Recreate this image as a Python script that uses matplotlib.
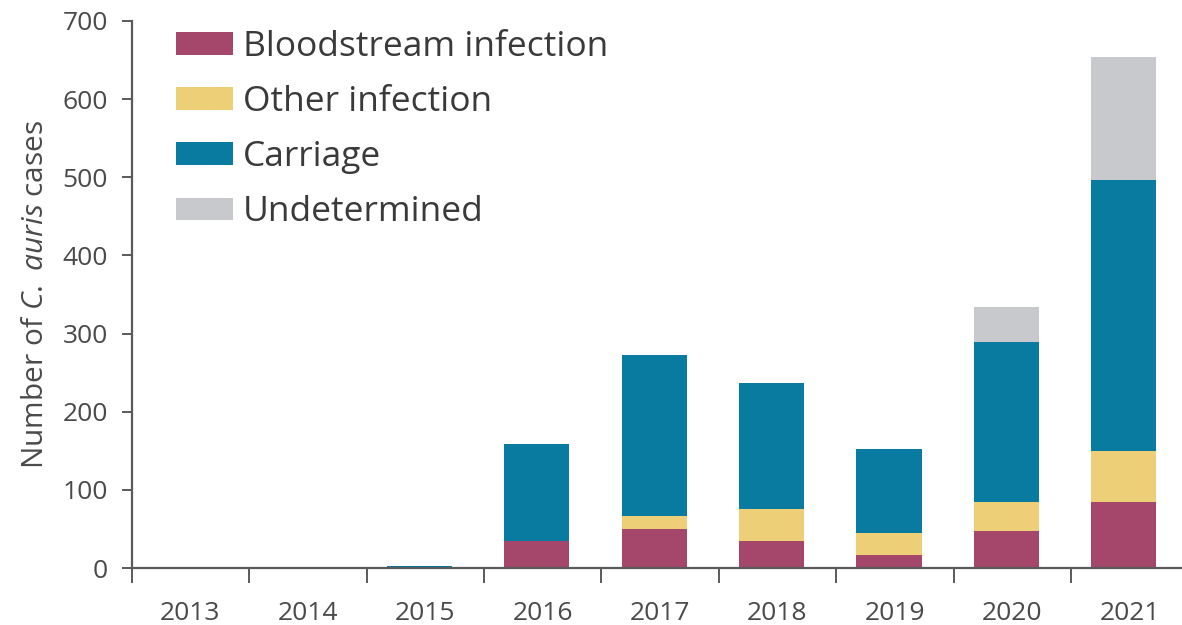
import matplotlib
matplotlib.use("Agg")
import matplotlib.pyplot as plt
import numpy as np

years = ["2013", "2014", "2015", "2016", "2017", "2018", "2019", "2020", "2021"]
bloodstream = [0, 0, 0, 35, 50, 35, 17, 47, 85]
other_infection = [0, 0, 0, 0, 17, 40, 28, 37, 65]
carriage = [0, 0, 2, 124, 206, 162, 107, 205, 346]
undetermined = [0, 0, 0, 0, 0, 0, 0, 45, 158]

series_names = ["Bloodstream infection", "Other infection", "Carriage", "Undetermined"]
colors = ["#A5476A", "#ECCF77", "#097BA1", "#C8C9CC"]

plt.rcParams['font.family'] = ['Open Sans', 'DejaVu Sans']
plt.rcParams['mathtext.fontset'] = 'custom'
plt.rcParams['mathtext.it'] = 'Open Sans:italic'
plt.rcParams['mathtext.rm'] = 'Open Sans'

W, H = 1182, 625
fig = plt.figure(figsize=(W / 100, H / 100), dpi=100)
left_px, bottom_px, top_px, right_px = 131.7, 568, 21, 1182
ax = fig.add_axes([left_px / W, 1 - bottom_px / H, (right_px - left_px) / W, (bottom_px - top_px) / H])

x = np.arange(len(years))
bar_x = x - 0.05
width = 0.555
bottom = np.zeros(len(years))
for name, vals, c in zip(series_names, [bloodstream, other_infection, carriage, undetermined], colors):
    ax.bar(bar_x, vals, width, bottom=bottom, color=c, label=name, linewidth=0)
    bottom += np.array(vals)

ax.set_ylim(0, 700)
ax.set_xlim(-0.5, -0.5 + (right_px - left_px) / 117.4)
ax.set_yticks(range(0, 701, 100))
ax.set_xticks(x)
ax.set_xticklabels(years)
ax.set_xticks(np.arange(len(years)) - 0.5, minor=True)

spine_c = "#5a5a5a"
for s in ["top", "right"]:
    ax.spines[s].set_visible(False)
for s in ["left", "bottom"]:
    ax.spines[s].set_color(spine_c)
    ax.spines[s].set_linewidth(1.6)

text_c = "#4a4a4a"
ax.tick_params(axis='y', length=7, width=1.4, color=spine_c, labelsize=19, labelcolor=text_c, pad=10)
ax.tick_params(axis='x', which='major', length=0, labelsize=19, labelcolor=text_c, pad=24)
ax.tick_params(axis='x', which='minor', length=11, width=1.4, color=spine_c, direction='out')

ax.set_ylabel("Number of $\\mathit{C.\\ auris}$ cases", fontsize=21.5, color=text_c, labelpad=9)

leg = ax.legend(loc='upper left', bbox_to_anchor=(0.029, 1.010), frameon=False,
                fontsize=25.5, handlelength=1.6, handleheight=0.62, handletextpad=0.28,
                labelspacing=0.6, borderaxespad=0)
for t in leg.get_texts():
    t.set_color("#3a3a3a")

fig.savefig("out.png", dpi=100)
